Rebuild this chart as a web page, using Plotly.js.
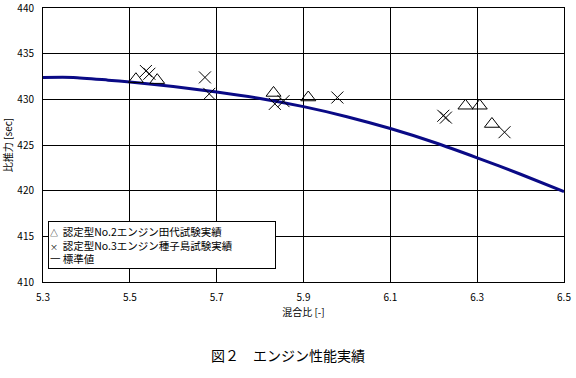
<!DOCTYPE html>
<html>
<head>
<meta charset="utf-8">
<script src="https://cdn.plot.ly/plotly-3.0.1.min.js"></script>
<style>html,body{margin:0;padding:0;background:#fff;}#chart{width:576px;height:378px;}</style>
</head>
<body>
<div id="chart"></div>
<script>
// Series 1: 認定型No.2エンジン田代試験実績 (triangles)
const tashiroX = [5.514, 5.563, 5.831, 5.911, 6.273, 6.306, 6.334];
const tashiroY = [432.2, 432.1, 430.7, 430.2, 429.3, 429.3, 427.3];
// Series 2: 認定型No.3エンジン種子島試験実績 (crosses)
const tanegaX = [5.537, 5.545, 5.673, 5.683, 5.834, 5.854, 5.978, 6.222, 6.228, 6.363];
const tanegaY = [433.1, 432.8, 432.4, 430.6, 429.5, 429.8, 430.2, 428.2, 428.0, 426.4];
// Series 3: 標準値 (curve)
const stdX = [5.3, 5.37, 5.45, 5.5, 5.6, 5.7, 5.8, 5.9, 6.0, 6.1, 6.2, 6.3, 6.4, 6.5];
const stdY = [432.4, 432.4, 432.1, 431.9, 431.4, 430.8, 430.1, 429.2, 428.1, 426.8, 425.3, 423.6, 421.8, 419.9];

const legendSymbols = ['△', '×', '一'];
const legendLabels = ['認定型No.2エンジン田代試験実績', '認定型No.3エンジン種子島試験実績', '標準値'];
const titleText = '図２　エンジン性能実績';
const xTitle = '混合比 [-]';
const yTitle = '比推力 [sec]';

const FONT = '"Noto Sans CJK JP", "DejaVu Sans", sans-serif';

const traces = [
  {x: stdX, y: stdY, mode: 'lines', name: '標準値', line: {color: '#0a0a86', width: 3, shape: 'spline', smoothing: 0.6}},
  {x: tashiroX, y: tashiroY, mode: 'markers', name: '認定型No.2エンジン田代試験実績',
   marker: {symbol: 'triangle-up-open', size: 13, color: '#000', line: {width: 1, color: '#000'}}},
  {x: tanegaX, y: tanegaY, mode: 'markers', name: '認定型No.3エンジン種子島試験実績',
   marker: {symbol: 'x-thin-open', size: 12, color: '#000', line: {width: 1, color: '#000'}}}
];

const legendText = legendLabels.map((lab, i) => {
  const sym = i < 2 ? '<span style="font-size:8px">' + legendSymbols[i] + '</span>  ' : legendSymbols[i] + ' ';
  return sym + lab;
}).join('<br>');

const layout = {
  width: 576, height: 378,
  margin: {l: 43, r: 12, t: 8, b: 96},
  paper_bgcolor: '#fff', plot_bgcolor: '#fff',
  showlegend: false,
  font: {family: FONT, size: 10, color: '#000'},
  title: {text: titleText, font: {family: FONT, size: 14, color: '#000'}, x: 0.5, xanchor: 'center', y: 1 - 356/378, yanchor: 'middle', yref: 'container'},
  xaxis: {
    range: [5.3, 6.5], dtick: 0.2, tick0: 5.3, tickformat: '.1f',
    showgrid: true, gridcolor: '#000', gridwidth: 1,
    showline: true, mirror: true, linecolor: '#000', linewidth: 1,
    zeroline: false, ticks: '', ticklabelstandoff: 6, ticklabeloverflow: 'allow',
    tickfont: {family: FONT, size: 10, color: '#000'},
    title: {text: xTitle, font: {family: FONT, size: 10, color: '#000'}, standoff: 5}
  },
  yaxis: {
    range: [410, 440], dtick: 5,
    showgrid: true, gridcolor: '#000', gridwidth: 1,
    showline: true, mirror: true, linecolor: '#000', linewidth: 1,
    zeroline: false, ticks: '', ticklabelstandoff: 6, ticklabeloverflow: 'allow',
    tickfont: {family: FONT, size: 10, color: '#000'},
    title: {text: yTitle, font: {family: FONT, size: 10, color: '#000'}, standoff: 6}
  },
  annotations: [{
    xref: 'paper', yref: 'paper', x: 0.0096, y: (282 - 221) / 274, xanchor: 'left', yanchor: 'top',
    text: legendText, align: 'left', valign: 'middle', showarrow: false,
    width: 224, height: 44, borderpad: 1,
    bordercolor: '#000', borderwidth: 1, bgcolor: '#fff',
    font: {family: FONT, size: 10.5, color: '#000'}
  }]
};

Plotly.newPlot('chart', traces, layout, {displayModeBar: false, staticPlot: true});
</script>
</body>
</html>
